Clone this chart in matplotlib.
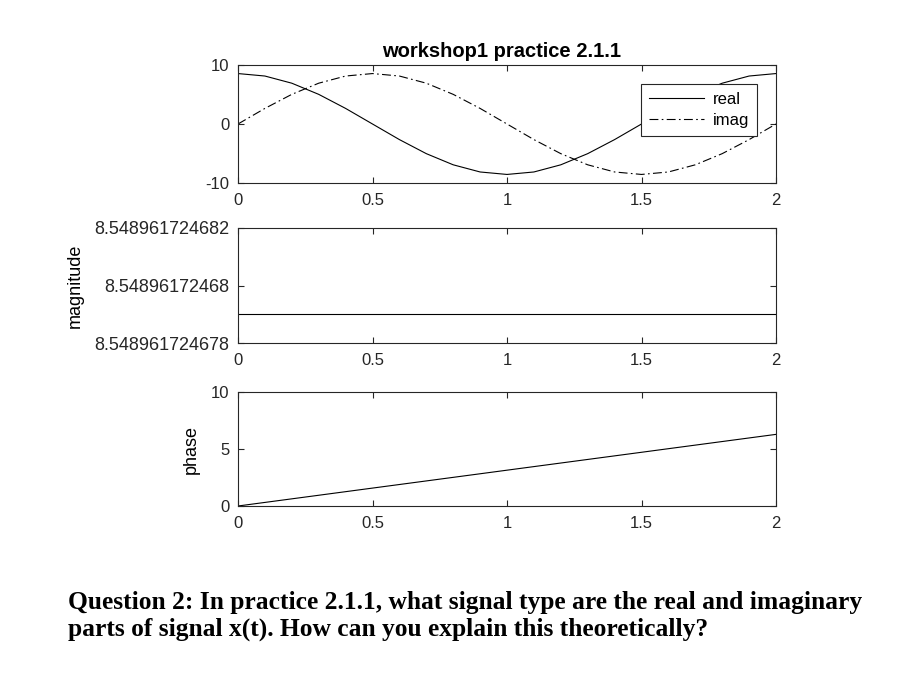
import matplotlib
matplotlib.use('Agg')
import matplotlib.pyplot as plt

# sample times (step 0.1)
t = [0.0, 0.1, 0.2, 0.3, 0.4, 0.5, 0.6, 0.7, 0.8, 0.9, 1.0,
     1.1, 1.2, 1.3, 1.4, 1.5, 1.6, 1.7, 1.8, 1.9, 2.0]
real_part = [8.549, 8.131, 6.916, 5.025, 2.642, 0.0, -2.642, -5.025, -6.916, -8.131, -8.549,
             -8.131, -6.916, -5.025, -2.642, 0.0, 2.642, 5.025, 6.916, 8.131, 8.549]
imag_part = [0.0, 2.642, 5.025, 6.916, 8.131, 8.549, 8.131, 6.916, 5.025, 2.642, 0.0,
             -2.642, -5.025, -6.916, -8.131, -8.549, -8.131, -6.916, -5.025, -2.642, 0.0]
magnitude = [8.548961724679] * 21
phase = [0.0, 0.314, 0.628, 0.942, 1.257, 1.571, 1.885, 2.199, 2.513, 2.827, 3.142,
         3.456, 3.770, 4.084, 4.398, 4.712, 5.027, 5.341, 5.655, 5.969, 6.283]

xticks = [0, 0.5, 1, 1.5, 2]
xticklabels = ['0', '0.5', '1', '1.5', '2']
mag_ticks = [8.548961724678, 8.548961724680, 8.548961724682]
mag_ticklabels = ['8.548961724678', '8.54896172468', '8.548961724682']

plt.rcParams['font.family'] = ['Liberation Sans', 'DejaVu Sans']
plt.rcParams['axes.unicode_minus'] = False
W, H = 906, 679
fig = plt.figure(figsize=(W / 100, H / 100), dpi=100)

def make_ax(left, top, right, bottom):
    return fig.add_axes([left / W, 1 - bottom / H, (right - left) / W, (bottom - top) / H])

def style(ax):
    ax.tick_params(direction='in', top=True, right=True, length=4, width=0.8,
                   labelsize=12, colors='#262626')
    ax.tick_params(axis='x', pad=7)
    ax.tick_params(axis='y', pad=6)
    for s in ax.spines.values():
        s.set_color('#262626')
        s.set_linewidth(0.8)
    ax.set_xlim(0, 2)
    ax.set_xticks(xticks)
    ax.set_xticklabels(xticklabels)

ax1 = make_ax(238, 65, 776, 183)
ax1.plot(t, real_part, color='black', lw=0.8, label='real')
ax1.plot(t, imag_part, color='black', lw=0.8, linestyle=(0, (8, 3, 1.5, 3)), label='imag')
ax1.set_ylim(-10, 10)
ax1.set_yticks([-10, 0, 10])
style(ax1)
ax1.set_title('workshop1 practice 2.1.1', fontsize=14.5, fontweight='bold', pad=6, x=0.489)
leg = ax1.legend(loc='upper right', bbox_to_anchor=(0.965, 0.839), borderaxespad=0, fontsize=12,
                 fancybox=False, framealpha=1, edgecolor='#262626',
                 handlelength=3.3, borderpad=0.5, labelspacing=0.35, handletextpad=0.5)
leg.get_frame().set_linewidth(0.8)

ax2 = make_ax(238, 228, 776, 343)
ax2.plot(t, magnitude, color='black', lw=0.8)
ax2.set_ylim(8.548961724678, 8.548961724682)
ax2.set_yticks(mag_ticks)
ax2.set_yticklabels(mag_ticklabels)
style(ax2)
ax2.tick_params(axis='y', labelsize=13)
ax2.set_ylabel('magnitude', fontsize=13, labelpad=8)

ax3 = make_ax(238, 392, 776, 506)
ax3.plot(t, phase, color='black', lw=0.8)
ax3.set_ylim(0, 10)
ax3.set_yticks([0, 5, 10])
style(ax3)
ax3.set_ylabel('phase', fontsize=13, labelpad=8)

fig.text(68 / W, 1 - 609 / H, 'Question 2: In practice 2.1.1, what signal type are the real and imaginary',
         family=['Liberation Serif', 'DejaVu Serif'], fontweight='bold', fontsize=18.4, va='baseline', ha='left')
fig.text(68 / W, 1 - 636 / H, 'parts of signal x(t). How can you explain this theoretically?',
         family=['Liberation Serif', 'DejaVu Serif'], fontweight='bold', fontsize=18.4, va='baseline', ha='left')

fig.savefig('out.png', dpi=100)
